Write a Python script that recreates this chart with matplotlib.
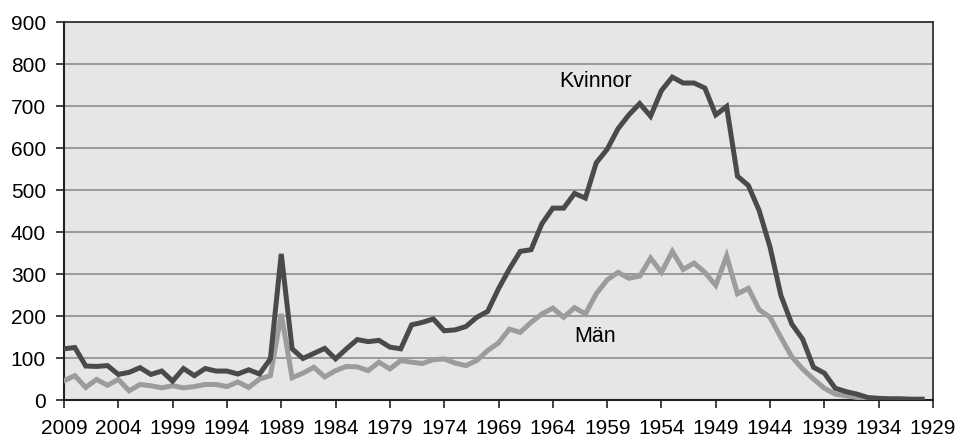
import matplotlib
matplotlib.use("Agg")
import matplotlib.pyplot as plt
import numpy as np

years = list(range(2009, 1929, -1))  # 2009 .. 1930

kvinnor = [121, 124, 80, 79, 81, 60, 65, 76, 60, 68,
           44, 74, 57, 74, 68, 68, 61, 71, 61, 97,
           347, 121, 98, 110, 122, 97, 121, 143, 138, 141,
           125, 121, 178, 184, 192, 164, 166, 174, 196, 210,
           264, 311, 353, 357, 419, 456, 456, 491, 480, 564,
           596, 645, 678, 705, 675, 736, 768, 754, 754, 742,
           678, 698, 532, 510, 450, 363, 248, 180, 144, 77,
           63, 27, 19, 13, 5, 3, 2, 2, 1, 1]

man = [45, 57, 29, 48, 34, 48, 21, 36, 33, 28,
       33, 28, 31, 36, 36, 31, 42, 29, 49, 57,
       204, 52, 63, 77, 54, 69, 79, 78, 69, 89,
       73, 93, 89, 86, 95, 97, 87, 81, 93, 117,
       135, 168, 160, 184, 204, 218, 196, 219, 204, 252,
       285, 303, 289, 294, 337, 303, 353, 310, 325, 303,
       272, 342, 252, 265, 214, 196, 148, 102, 73, 49,
       27, 13, 9, 5, 2, 1, 0, 0, 0, 0]

tick_years = list(range(2009, 1928, -5))
ytick_vals = list(range(0, 1000, 100))

plt.rcParams['font.family'] = ['Liberation Sans', 'DejaVu Sans']

fig = plt.figure(figsize=(9.58, 4.39), dpi=100)
ax = fig.add_axes([64/958, 38.4/439, (933-64)/958, (400.6-22.7)/439])
ax.set_facecolor('#e6e6e6')

for v in ytick_vals[1:]:
    ax.axhline(v, color='#999999', lw=1.4, zorder=1)

ax.plot(years, man, color='#9c9c9c', lw=3.6, zorder=3, solid_joinstyle='miter')
ax.plot(years, kvinnor, color='#4a4a4a', lw=3.6, zorder=4, solid_joinstyle='miter')

ax.set_xlim(2009, 1929)
ax.set_ylim(0, 900)
ax.set_xticks(tick_years)
ax.set_xticklabels([str(y) for y in tick_years])
ax.set_yticks(ytick_vals)
ax.set_yticklabels([str(v) for v in ytick_vals])

ax.tick_params(axis='x', direction='out', length=6, width=1.2, color='#222222',
               labelsize=15, pad=7.5)
ax.tick_params(axis='y', direction='out', length=6, width=1.2, color='#222222',
               labelsize=15, pad=7)

for side in ['left', 'bottom']:
    ax.spines[side].set_color('#222222')
    ax.spines[side].set_linewidth(1.5)
for side in ['top', 'right']:
    ax.spines[side].set_color('#333333')
    ax.spines[side].set_linewidth(1.3)

ax.text(1960.1, 759, 'Kvinnor', fontsize=15.5, ha='center', va='center', color='black', zorder=5)
ax.text(1960.1, 152, 'Män', fontsize=15.5, ha='center', va='center', color='black', zorder=5)

fig.savefig('out.png', dpi=100, facecolor='white')
